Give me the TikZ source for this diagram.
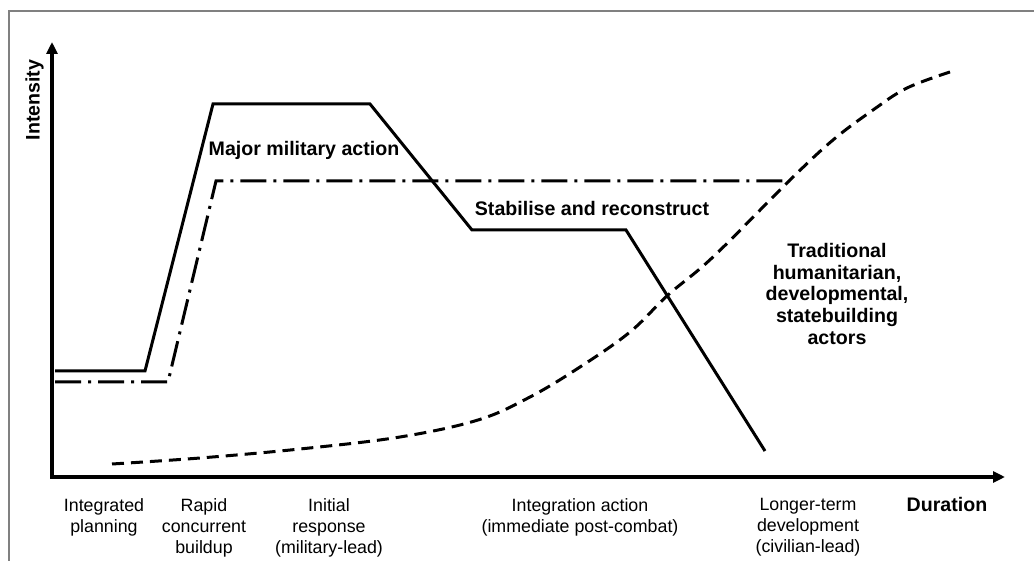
\documentclass[tikz,border=0pt]{standalone}
\usepackage{fontspec}
\setmainfont{Liberation Sans}
\usetikzlibrary{arrows.meta}

\begin{document}
\begin{tikzpicture}[x=1pt, y=-1pt,
    axis/.style={line width=3.5pt, line join=miter, {Triangle[length=12pt,width=11pt]}-{Triangle[length=12pt,width=11pt]}},
    curve/.style={line width=3pt, line join=miter},
    phaselabel/.style={anchor=north, align=center, inner sep=0pt, font=\fontsize{17.8}{21}\selectfont},
    boldlabel/.style={anchor=base, inner sep=0pt, font=\fontsize{19.6}{21.7}\selectfont\bfseries}]
    \useasboundingbox (0,0) rectangle (1034,561);

    % Frame
    \draw[gray, line width=1.5pt] (9,561) -- (9,11) -- (1034,11);

    % Axes
    \coordinate (origin) at (52,477);
    \coordinate (ytop) at (52,42);
    \coordinate (xend) at (1005,477);
    \draw[axis] (ytop) -- (origin) -- (xend);
    \node[boldlabel, rotate=90] (intensity) at (39.5,100) {Intensity};
    \node[boldlabel] (duration) at (947,511) {Duration};

    % Military effort
    \draw[curve] (55,371) -- (145,371) -- (213,104) -- (370,104) -- (472,230) -- (626,230) -- (765,451);
    % Integrated effort
    \draw[curve, dash pattern=on 26pt off 7pt on 3pt off 7pt] (55,382) -- (168,382) -- (216,181) -- (790,181);
    % Civilian effort
    \draw[curve, dash pattern=on 12pt off 7pt] plot[smooth, tension=0.6] coordinates {
        (112,464) (200,458) (300,449) (400,437) (478,420) (530,397) (580,367)
        (630,332) (668,295) (713,257) (790,180) (833,140) (873,110) (907,88) (950,72)};

    % Curve labels
    \node[boldlabel] (major) at (304,156) {Major military action};
    \node[boldlabel] (stabilise) at (592,216) {Stabilise and reconstruct};
    \node[boldlabel, anchor=north, align=center] (actors) at (837,243)
        {Traditional\\humanitarian,\\developmental,\\statebuilding\\actors};

    % Phases
    \node[phaselabel] (planning) at (104,498) {Integrated\\planning};
    \node[phaselabel] (buildup) at (204,498) {Rapid\\concurrent\\buildup};
    \node[phaselabel] (response) at (329,498) {Initial\\response\\(military-lead)};
    \node[phaselabel] (integration) at (580,498) {Integration action\\(immediate post-combat)};
    \node[phaselabel] (development) at (808,498) {Longer-term\\development\\(civilian-lead)};
\end{tikzpicture}
\end{document}
